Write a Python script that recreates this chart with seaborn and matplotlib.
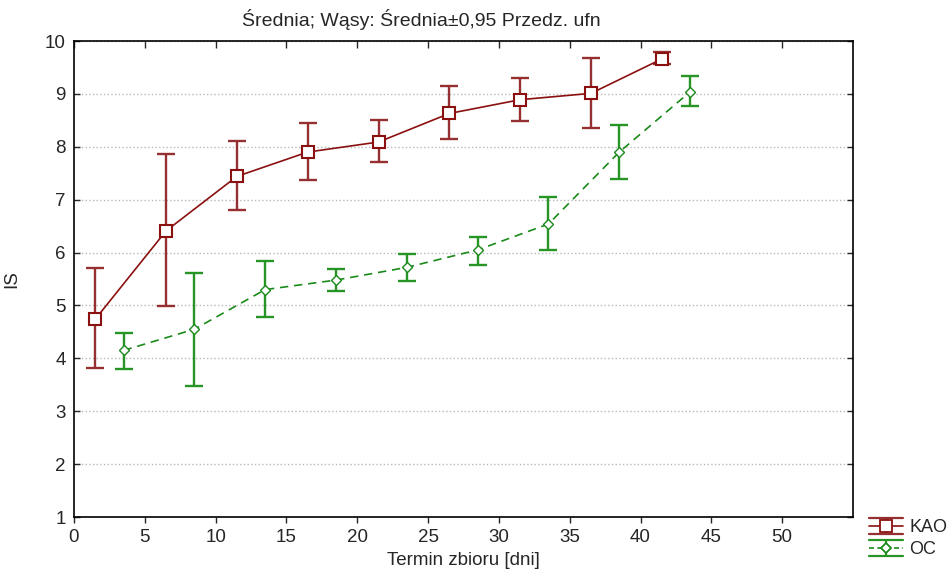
import numpy as np
import pandas as pd
import seaborn as sns
import matplotlib.pyplot as plt
from matplotlib.lines import Line2D
from matplotlib.legend_handler import HandlerBase

# harvest day and IS means with 0.95 confidence limits
kao_day = [1.5, 6.5, 11.5, 16.5, 21.5, 26.5, 31.5, 36.5, 41.5]
kao_mean = [4.74, 6.41, 7.44, 7.90, 8.09, 8.63, 8.89, 9.01, 9.66]
kao_low = [3.82, 4.99, 6.81, 7.37, 7.71, 8.14, 8.49, 8.36, 9.57]
kao_high = [5.71, 7.86, 8.11, 8.45, 8.51, 9.14, 9.30, 9.67, 9.79]

oc_day = [3.5, 8.5, 13.5, 18.5, 23.5, 28.5, 33.5, 38.5, 43.5]
oc_mean = [4.15, 4.55, 5.30, 5.48, 5.72, 6.05, 6.54, 7.90, 9.04]
oc_low = [3.80, 3.48, 4.78, 5.27, 5.47, 5.77, 6.04, 7.40, 8.77]
oc_high = [4.48, 5.61, 5.84, 5.68, 5.98, 6.30, 7.05, 8.41, 9.34]

groups = ['KAO', 'OC']
colors = {'KAO': '#8b1010', 'OC': '#1a8a1a'}
bar_colors = {'KAO': '#963030', 'OC': '#269526'}

df = pd.concat([
    pd.DataFrame({'day': kao_day, 'IS': kao_mean, 'low': kao_low, 'high': kao_high, 'grupa': 'KAO'}),
    pd.DataFrame({'day': oc_day, 'IS': oc_mean, 'low': oc_low, 'high': oc_high, 'grupa': 'OC'}),
], ignore_index=True)

sns.set_style('white')
plt.rcParams['font.family'] = ['Liberation Sans', 'DejaVu Sans']

fig = plt.figure(figsize=(9.53, 5.73), dpi=100)
ax = fig.add_axes([74 / 953, 1 - 517 / 573, (853 - 74) / 953, (517 - 41) / 573])

sns.lineplot(data=df, x='day', y='IS', hue='grupa', style='grupa',
             palette=colors, markers={'KAO': 's', 'OC': 'D'},
             dashes={'KAO': '', 'OC': (5, 3.5)}, markersize=8,
             linewidth=1.2, legend=False, ax=ax, zorder=3)

# whiskers
for g in groups:
    sub = df[df['grupa'] == g]
    yerr = [sub['IS'] - sub['low'], sub['high'] - sub['IS']]
    ax.errorbar(sub['day'], sub['IS'], yerr=yerr, fmt='none',
                ecolor=bar_colors[g], elinewidth=1.7, capsize=6.5,
                capthick=1.7, zorder=2)

# white-filled markers
for line, g in zip(ax.get_lines()[:2], groups):
    line.set_markerfacecolor('white')
    line.set_markeredgecolor(colors[g])
    if g == 'KAO':
        line.set_markersize(8.5)
        line.set_markeredgewidth(1.5)
    else:
        line.set_markersize(5.5)
        line.set_markeredgewidth(1.0)


class WhiskerHandler(HandlerBase):
    def __init__(self, color, bar_color, ls, marker, ms):
        super().__init__()
        self.c, self.bc, self.ls, self.m, self.ms = color, bar_color, ls, marker, ms

    def create_artists(self, legend, orig_handle, xdescent, ydescent,
                       width, height, fontsize, trans):
        y0, y1 = -ydescent - 0.5, height - ydescent + 0.5
        ym = (y0 + y1) / 2
        xm = width / 2 - xdescent
        arts = [
            Line2D([-xdescent, width - xdescent], [y0, y0], color=self.bc, lw=1.6),
            Line2D([-xdescent, width - xdescent], [y1, y1], color=self.bc, lw=1.6),
            Line2D([xm, xm], [y0, y1], color=self.bc, lw=1.6),
            Line2D([-xdescent, width - xdescent], [ym, ym], color=self.c, lw=1.2,
                   ls=self.ls),
            Line2D([xm], [ym], marker=self.m, ms=self.ms, mfc='white',
                   mec=self.c, mew=1.3, ls='none'),
        ]
        for a in arts:
            a.set_transform(trans)
        return arts


h_kao = Line2D([], [], color=colors['KAO'])
h_oc = Line2D([], [], color=colors['OC'])
fig.legend([h_kao, h_oc], groups, loc='upper left',
           bbox_to_anchor=(856 / 953, 1 - 506 / 573), frameon=False,
           fontsize=13, handlelength=1.9, handleheight=0.85, labelspacing=0.25,
           handletextpad=0.35, borderpad=0.2,
           handler_map={h_kao: WhiskerHandler(colors['KAO'], bar_colors['KAO'], '-', 's', 8),
                        h_oc: WhiskerHandler(colors['OC'], bar_colors['OC'], (0, (3, 2)), 'D', 5.5)})

ax.set_xlim(0, 55)
ax.set_ylim(1, 10)
ax.set_xticks(np.arange(0, 55, 5))
ax.set_yticks(np.arange(1, 11, 1))
ax.yaxis.grid(True, color='#b8b8b8', linestyle=':', linewidth=1.0)
ax.xaxis.grid(False)
for s in ax.spines.values():
    s.set_visible(True)
    s.set_color('black')
    s.set_linewidth(1.2)
ax.tick_params(axis='x', bottom=True, top=True, direction='out',
               length=4, width=1, labelsize=13.5, pad=5)
ax.tick_params(axis='y', left=True, right=True, direction='in', length=4,
               width=1, labelsize=13.5, pad=6)
for t in ax.xaxis.get_major_ticks():
    t.tick2line.set_marker(3)
    t.tick2line.set_markersize(5)

ax.set_title('Średnia; Wąsy: Średnia±0,95 Przedz. ufn', fontsize=14,
             x=(421 - 74) / (853 - 74), pad=11)
ax.set_xlabel('Termin zbioru [dni]', fontsize=13.5)
ax.set_ylabel('IS', fontsize=13.5)
ax.xaxis.set_label_coords(0.5, -(552 - 517) / 476)
ax.yaxis.set_label_coords((20 - 74) / 779, 0.5)

fig.savefig('out.png', dpi=100)
